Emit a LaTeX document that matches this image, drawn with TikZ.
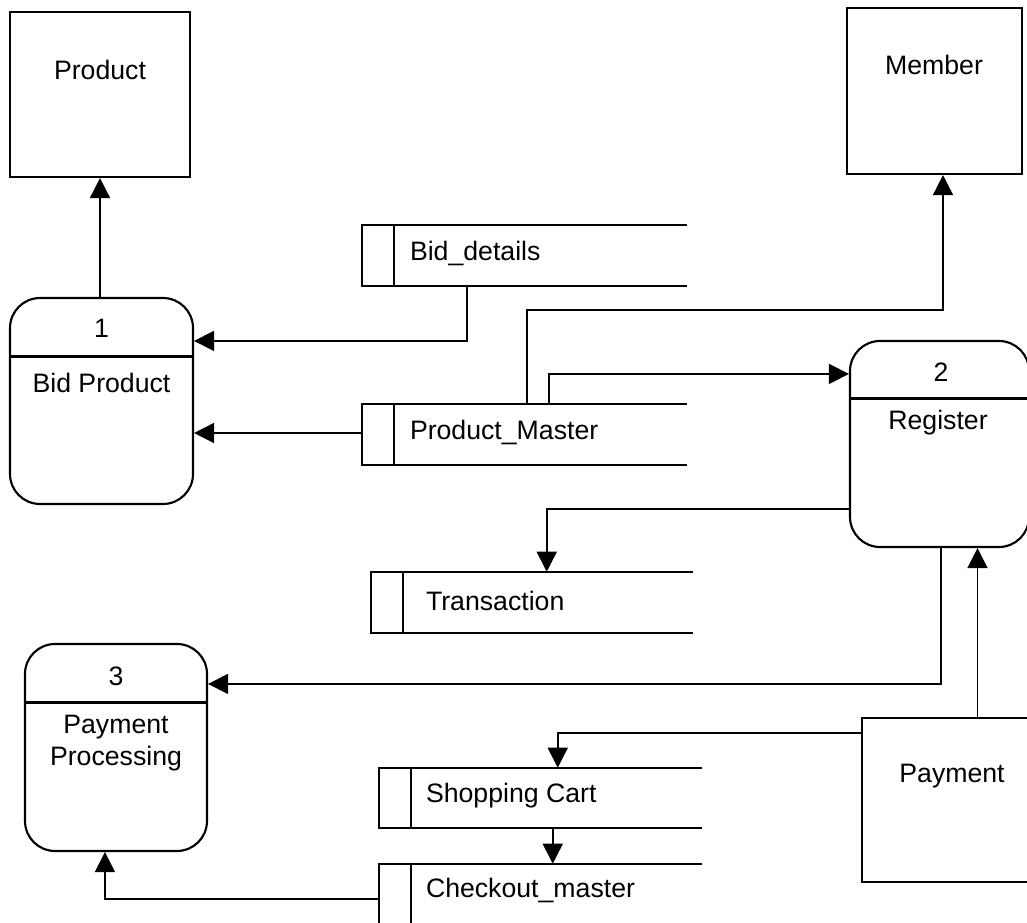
\documentclass[tikz,border=0pt]{standalone}
\usepackage{fontspec}
\setmainfont{Liberation Sans}
\usetikzlibrary{arrows.meta,calc}
\tikzset{
  ext/.style={draw, line width=1.6pt, inner sep=0, fill=white},
  proc/.style={draw, line width=1.6pt, rounded corners=22.5pt, inner sep=0},
  store/.style={inner sep=0, draw=none, minimum height=45.75pt},
  storeline/.style={line width=1.25pt},
  divider/.style={line width=2.3pt},
  flow/.style={line width=1.2pt, -{Triangle[length=15pt,width=15pt]}},
  lbl/.style={font=\fontsize{20}{24.5}\selectfont, inner sep=0, align=center},
}
\newcommand{\storeoutline}[1]{%
  \draw[storeline] (#1.north east) -- (#1.north west) -- (#1.south west) -- (#1.south east);
  \draw[storeline] ($(#1.north west)+(32,0)$) -- ($(#1.south west)+(32,0)$);}
\begin{document}
\begin{tikzpicture}[x=0.75pt,y=-0.75pt]
\useasboundingbox[fill=white] (0,0) rectangle (1027,923);
% externals
\node[ext, minimum width=135pt, minimum height=123.75pt] (prod) at (100,94.5) {};
\node[lbl] (prodt) at (100,70) {Product};
\node[ext, minimum width=131.25pt, minimum height=124.5pt] (mem) at (934.5,91) {};
\node[lbl] (memt) at (934,65) {Member};
\node[ext, minimum width=126pt, minimum height=123pt] (pay) at (946,800) {};
\node[lbl] (payt) at (952,776) {Payment};
% processes
\node[proc, minimum width=137.25pt, minimum height=154.5pt] (bp) at (101.5,401) {};
\draw[divider] ($(bp.north west)+(0,60)$) -- ($(bp.north east)+(0,60)$);
\node[lbl] (bpn) at (101.5,328) {1};
\node[lbl] (bpt) at (101.5,383) {Bid Product};
\node[proc, minimum width=134.25pt, minimum height=154.5pt] (reg) at (939.5,444) {};
\draw[divider] ($(reg.north west)+(0,59)$) -- ($(reg.north east)+(0,59)$);
\node[lbl] (regn) at (941,372) {2};
\node[lbl] (regt) at (938,423) {Register};
\node[proc, minimum width=136.5pt, minimum height=155.25pt] (pp) at (116,747.5) {};
\draw[divider] ($(pp.north west)+(0,60)$) -- ($(pp.north east)+(0,60)$);
\node[lbl] (ppn) at (116,676) {3};
\node[lbl] (ppt) at (116,743) {Payment\\Processing};
% stores
\node[store, minimum width=243.75pt] (bd) at (524.5,255.5) {};
\storeoutline{bd}
\node[lbl, anchor=west] (bdt) at ($(bd.west)+(48,-2)$) {Bid\_details};
\node[store, minimum width=243.75pt] (pm) at (524.5,434.5) {};
\storeoutline{pm}
\node[lbl, anchor=west] (pmt) at ($(pm.west)+(48,-2)$) {Product\_Master};
\node[store, minimum width=241.5pt] (tr) at (532,602.5) {};
\storeoutline{tr}
\node[lbl, anchor=west] (trt) at ($(tr.west)+(55,-2)$) {Transaction};
\node[store, minimum width=242.25pt, minimum height=45pt] (sc) at (540.5,798) {};
\storeoutline{sc}
\node[lbl, anchor=west] (sct) at ($(sc.west)+(47,-2)$) {Shopping Cart};
\node[store, minimum width=242.25pt] (co) at (540.5,894.5) {};
\storeoutline{co}
\node[lbl, anchor=west] (cot) at ($(co.west)+(47,-4)$) {Checkout\_master};
% flows
\draw[flow] (bp.north -| prod.south) -- (prod.south);
\draw[flow] ($(bd.south west)+(105,0)$) |- ($(bp.north east)+(0,44)$);
\draw[flow] ($(pm.west)+(0,-1.5)$) -- ($(bp.east)+(0,32)$);
\draw[flow] ($(pm.north west)+(165,0)$) -- ++(0,-94) -| ($(mem.south)+(8.5,0)$);
\draw[flow] ($(pm.north west)+(187,0)$) |- ($(reg.north west)+(0,34)$);
\draw[flow] ($(reg.south west)+(0,-39)$) -| ($(tr.north west)+(176,0)$);
\draw[flow] ($(reg.south)+(1.5,0)$) |- ($(pp.north east)+(0,41)$);
\coordinate (p8) at ($(pay.north)+(31.5,0)$);
\draw[flow] (p8) -- (p8 |- reg.south);
\draw[flow] ($(pay.north west)+(0,16)$) -| ($(sc.north west)+(179,0)$);
\draw[flow] ($(sc.south west)+(174,0)$) -- ($(co.north west)+(174,0)$);
\draw[flow] ($(co.west)+(0,4.5)$) -| ($(pp.south west)+(81,0)$);
\end{tikzpicture}
\end{document}
